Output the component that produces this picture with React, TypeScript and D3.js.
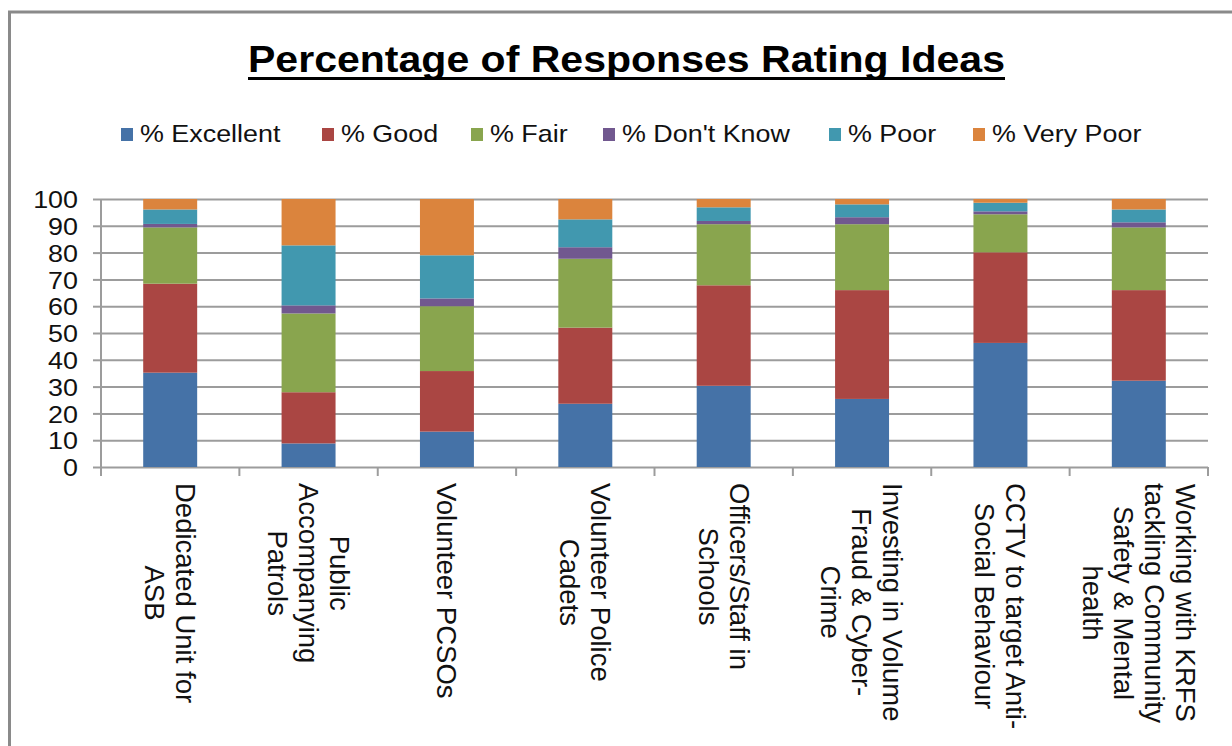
import React, { useEffect, useRef } from "react";
import * as d3 from "d3";

const width = 1232;
const height = 746;

// categories, one entry per line of the wrapped label
const categories = [
  ["Dedicated Unit for", "ASB"],
  ["Public", "Accompanying", "Patrols"],
  ["Volunteer PCSOs"],
  ["Volunteer Police", "Cadets"],
  ["Officers/Staff in", "Schools"],
  ["Investing in Volume", "Fraud & Cyber-", "Crime"],
  ["CCTV to target Anti-", "Social Behaviour"],
  ["Working with KRFS", "tackling Community", "Safety & Mental", "health"],
];

const seriesNames = ["% Excellent", "% Good", "% Fair", "% Don't Know", "% Poor", "% Very Poor"];
const seriesColors = ["#4572A7", "#AA4643", "#89A54E", "#71588F", "#4198AF", "#DB843D"];

const excellent = [35.2, 8.8, 13.2, 23.6, 30.3, 25.4, 46.3, 32.2];
const good = [33.2, 19.1, 22.6, 28.4, 37.5, 40.6, 33.8, 33.8];
const fair = [21.0, 29.4, 24.2, 25.7, 22.8, 24.6, 14.2, 23.4];
const dontKnow = [1.3, 3.0, 2.9, 4.3, 1.2, 2.6, 1.1, 1.9];
const poor = [5.4, 22.4, 16.1, 10.4, 5.1, 4.8, 3.2, 4.8];
const veryPoor = [3.9, 17.3, 21.0, 7.6, 3.1, 2.0, 1.4, 3.9];

const yTicks = [0, 10, 20, 30, 40, 50, 60, 70, 80, 90, 100];

const title = "Percentage of Responses Rating Ideas";

// legend marker left edges (layout)
const legendX = [121, 322, 471, 603, 829, 973];

const font = "Arial, 'Liberation Sans', sans-serif";
const gridColor = "#9c9c9c";

const App: React.FC = () => {
  const svgRef = useRef<SVGSVGElement | null>(null);

  useEffect(() => {
    if (!svgRef.current) return;
    const svg = d3.select(svgRef.current);
    svg.selectAll("*").remove();

    const left = 101;
    const right = 1208;
    const top = 199;
    const bottom = 467;

    svg.append("rect").attr("width", width).attr("height", height).attr("fill", "#fff");

    // chart frame (only top and left edges visible)
    svg
      .append("path")
      .attr("d", `M9.5,${height} V12 H${width}`)
      .attr("fill", "none")
      .attr("stroke", "#8a8a8a")
      .attr("stroke-width", 3);

    // title
    svg
      .append("text")
      .attr("x", 248)
      .attr("y", 72)
      .attr("font-family", font)
      .attr("font-weight", "bold")
      .attr("font-size", 36)
      .attr("textLength", 757)
      .attr("lengthAdjust", "spacingAndGlyphs")
      .attr("fill", "#000")
      .text(title);
    svg
      .append("line")
      .attr("x1", 248)
      .attr("x2", 1005)
      .attr("y1", 78.5)
      .attr("y2", 78.5)
      .attr("stroke", "#000")
      .attr("stroke-width", 3);

    // legend
    const leg = svg
      .selectAll("g.leg")
      .data(seriesNames)
      .enter()
      .append("g")
      .attr("class", "leg")
      .attr("transform", (_d, i) => `translate(${legendX[i]},0)`);
    leg
      .append("rect")
      .attr("x", 0)
      .attr("y", 128)
      .attr("width", 12)
      .attr("height", 13)
      .attr("fill", (_d, i) => seriesColors[i]);
    leg
      .append("text")
      .attr("transform", "translate(19,142) scale(1.12,1)")
      .attr("font-family", font)
      .attr("font-size", 24)
      .attr("fill", "#111")
      .text((d) => d);

    const y = d3.scaleLinear().domain([0, 100]).range([bottom, top]);
    const x = d3
      .scaleBand<number>()
      .domain(d3.range(categories.length))
      .range([left, right])
      .paddingInner(0.61)
      .paddingOuter(0.305);
    const xEdge = d3.scaleLinear().domain([0, categories.length]).range([left, right]);

    // gridlines
    const grid = svg
      .append("g")
      .attr("transform", `translate(${left},0)`)
      .call(d3.axisLeft(y).tickValues(yTicks).tickSize(-(right - left)).tickFormat(() => ""));
    grid.select(".domain").remove();
    grid.selectAll("line").attr("stroke", gridColor).attr("stroke-width", 2);

    // stacked bars
    const table = categories.map((_c, i) => ({
      e: excellent[i],
      g: good[i],
      f: fair[i],
      d: dontKnow[i],
      p: poor[i],
      v: veryPoor[i],
    }));
    const keys = ["e", "g", "f", "d", "p", "v"];
    const stacked = d3.stack<any>().keys(keys)(table);

    svg
      .append("g")
      .selectAll("g")
      .data(stacked)
      .enter()
      .append("g")
      .attr("fill", (_d, i) => seriesColors[i])
      .selectAll("rect")
      .data((d) => d.map((v, i) => ({ v, i })))
      .enter()
      .append("rect")
      .attr("x", (d) => x(d.i)!)
      .attr("width", x.bandwidth())
      .attr("y", (d) => y(d.v[1]))
      .attr("height", (d) => y(d.v[0]) - y(d.v[1]));

    // y axis
    const yAxis = svg
      .append("g")
      .attr("transform", `translate(${left},0)`)
      .call(d3.axisLeft(y).tickValues(yTicks).tickSizeInner(8).tickSizeOuter(0).tickPadding(15));
    yAxis.select(".domain").attr("stroke", gridColor).attr("stroke-width", 2).attr("d", `M0,${top}V${bottom + 9}`);
    yAxis.selectAll("line").attr("stroke", gridColor).attr("stroke-width", 2);
    yAxis
      .selectAll("text")
      .attr("font-family", font)
      .attr("font-size", 24)
      .attr("fill", "#111")
      .attr("dy", "0.36em")
      .attr("transform", function () {
        const t = d3.select(this);
        const xx = +t.attr("x");
        return `translate(${xx},0) scale(1.12,1) translate(${-xx},0)`;
      });

    // x ticks at category boundaries
    svg
      .append("g")
      .selectAll("line")
      .data(d3.range(categories.length + 1))
      .enter()
      .append("line")
      .attr("x1", (d) => xEdge(d))
      .attr("x2", (d) => xEdge(d))
      .attr("y1", bottom)
      .attr("y2", bottom + 9)
      .attr("stroke", gridColor)
      .attr("stroke-width", 2);

    // rotated category labels
    const lineH = 31;
    categories.forEach((lines, ci) => {
      const cx = x(ci)! + x.bandwidth() / 2;
      const g = svg.append("g").attr("transform", `translate(${cx},483) rotate(90)`);
      const texts = lines.map((ln, li) =>
        g
          .append("text")
          .attr("y", (li - (lines.length - 1) / 2) * lineH)
          .attr("dy", "0.35em")
          .attr("text-anchor", "middle")
          .attr("font-family", font)
          .attr("font-size", 27.5)
          .attr("fill", "#111")
          .text(ln)
      );
      const maxLen = d3.max(texts, (t) => (t.node() as SVGTextElement).getComputedTextLength()) || 0;
      texts.forEach((t) => t.attr("x", maxLen / 2));
    });

    return () => {
      svg.selectAll("*").remove();
    };
  }, []);

  return (
    <svg
      ref={svgRef}
      width={width}
      height={height}
      style={{ position: "absolute", left: 0, top: 0, display: "block" }}
    />
  );
};

export default App;
